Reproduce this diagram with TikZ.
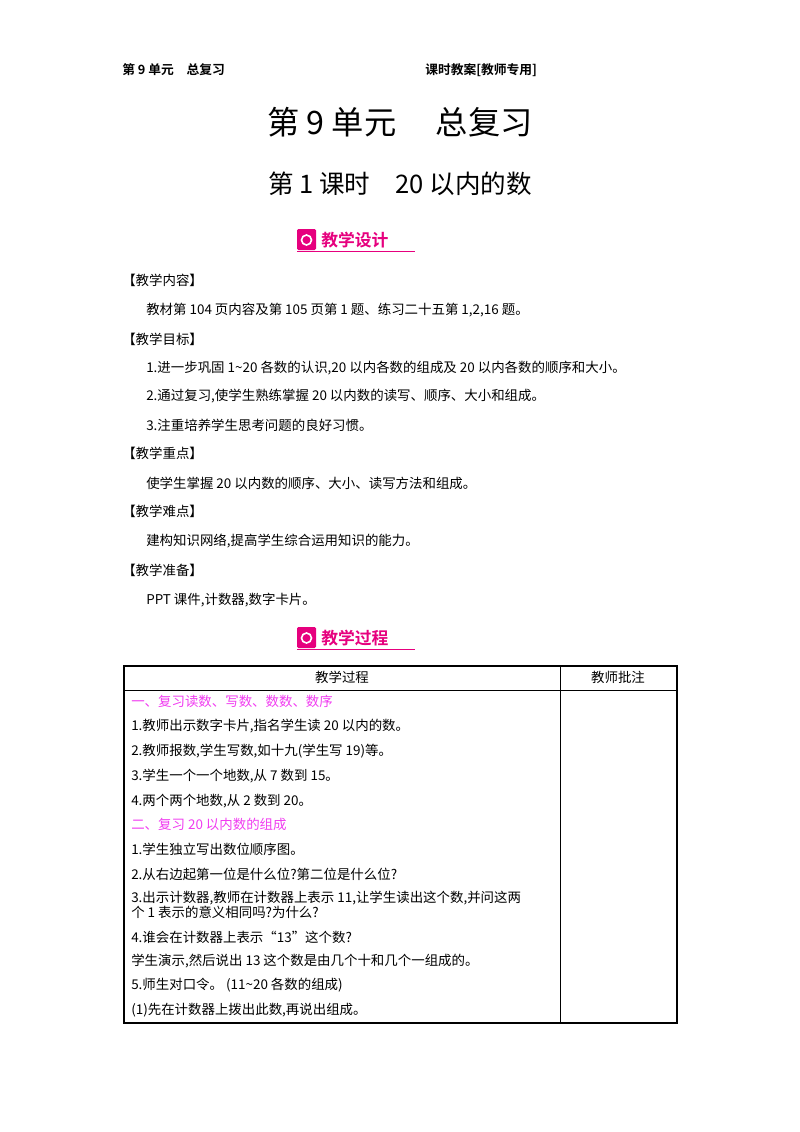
\documentclass[tikz,border=0pt]{standalone}
\usepackage{fontspec}
\setmainfont{Liberation Serif}
\newfontfamily\cjk{Noto Sans CJK SC}
\newfontfamily\cjkb{Noto Sans CJK SC Bold}
\definecolor{mag}{RGB}{230,0,126}
\definecolor{pinkt}{RGB}{240,60,240}
\begin{document}
\begin{tikzpicture}[x=0.744pt,y=-0.744pt,
  t/.style={anchor=west,inner sep=0pt,font=\cjk\fontsize{10}{12}\selectfont},
  h/.style={anchor=west,inner sep=0pt,font=\cjk\fontsize{10}{12}\selectfont}]
\useasboundingbox (0,0) rectangle (800,1132);
\node[t,font=\cjkb\fontsize{9.5}{11}\selectfont] (h1) at (122,70) {第 9 单元\quad 总复习};
\node[t,font=\cjkb\fontsize{9.5}{11}\selectfont] (h2) at (425,70) {课时教案[教师专用]};
\node[inner sep=0pt,font=\cjk\fontsize{24}{28}\selectfont] (ti) at (400,122) {第 9 单元\quad\ 总复习};
\node[inner sep=0pt,font=\cjk\fontsize{19}{23}\selectfont] (st) at (400,184) {第 1 课时\quad 20 以内的数};
% badges
\foreach \y/\txt/\n in {240/教学设计/b1, 638/教学过程/b2}{
  \fill[mag,rounded corners=1pt] (297,\y-11) rectangle (316,\y+10);
  \draw[white,line width=1.2pt] (306.5,\y) circle (5);
  \node[anchor=west,inner sep=0pt,text=mag,font=\cjkb\fontsize{12.5}{14}\selectfont] (\n) at (321,\y) {\txt};
  \draw[mag,line width=0.6pt] (297,\y+11) -- (415,\y+11);
}
\node[h] (a1) at (122,280) {【教学内容】};
\node[t] (a2) at (146,310) {教材第 104 页内容及第 105 页第 1 题、练习二十五第 1,2,16 题。};
\node[h] (a3) at (122,339) {【教学目标】};
\node[t] (a4) at (146,368) {1.进一步巩固 1\textasciitilde 20 各数的认识,20 以内各数的组成及 20 以内各数的顺序和大小。};
\node[t] (a5) at (146,396) {2.通过复习,使学生熟练掌握 20 以内数的读写、顺序、大小和组成。};
\node[t] (a6) at (146,425) {3.注重培养学生思考问题的良好习惯。};
\node[h] (a7) at (122,453) {【教学重点】};
\node[t] (a8) at (146,483) {使学生掌握 20 以内数的顺序、大小、读写方法和组成。};
\node[h] (a9) at (122,511) {【教学难点】};
\node[t] (a10) at (146,541) {建构知识网络,提高学生综合运用知识的能力。};
\node[h] (a11) at (122,570) {【教学准备】};
\node[t] (a12) at (146,600) {PPT 课件,计数器,数字卡片。};
% table
\draw[line width=0.8pt] (124,666) rectangle (677,1023);
\draw[line width=0.6pt] (124,690) -- (677,690);
\draw[line width=0.6pt] (560,666) -- (560,1023);
\node[inner sep=0pt,font=\cjk\fontsize{10}{12}\selectfont] (c1) at (342,677) {教学过程};
\node[inner sep=0pt,font=\cjk\fontsize{10}{12}\selectfont] (c2) at (618,677) {教师批注};
\node[t,text=pinkt] (r1) at (131,701) {一、复习读数、写数、数数、数序};
\node[t] (r2) at (131,726) {1.教师出示数字卡片,指名学生读 20 以内的数。};
\node[t] (r3) at (131,751) {2.教师报数,学生写数,如十九(学生写 19)等。};
\node[t] (r4) at (131,776) {3.学生一个一个地数,从 7 数到 15。};
\node[t] (r5) at (131,801) {4.两个两个地数,从 2 数到 20。};
\node[t,text=pinkt] (r6) at (131,824) {二、复习 20 以内数的组成};
\node[t] (r7) at (131,849) {1.学生独立写出数位顺序图。};
\node[t] (r8) at (131,874) {2.从右边起第一位是什么位?第二位是什么位?};
\node[t] (r9) at (131,898) {3.出示计数器,教师在计数器上表示 11,让学生读出这个数,并问这两};
\node[t] (r10) at (131,912) {个 1 表示的意义相同吗?为什么?};
\node[t] (r11) at (131,937) {4.谁会在计数器上表示“13”这个数?};
\node[t] (r12) at (131,961) {学生演示,然后说出 13 这个数是由几个十和几个一组成的。};
\node[t] (r13) at (131,985) {5.师生对口令。 (11\textasciitilde 20 各数的组成)};
\node[t] (r14) at (131,1010) {(1)先在计数器上拨出此数,再说出组成。};
\end{tikzpicture}
\end{document}
